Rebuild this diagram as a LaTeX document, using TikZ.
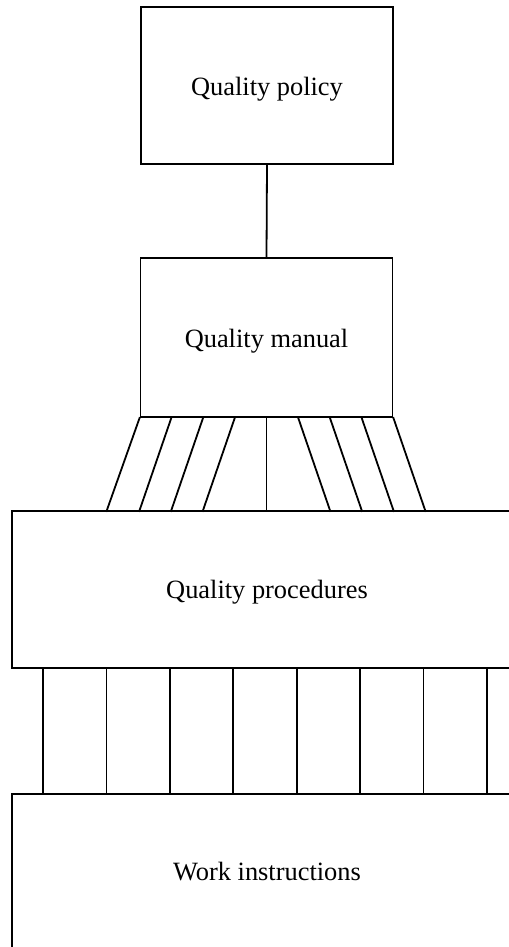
\documentclass[tikz,border=0pt]{standalone}
\usepackage{fontspec}
\setmainfont{Liberation Serif}
\usetikzlibrary{calc}
\begin{document}
\begin{tikzpicture}[x=1bp,y=1bp]
\tikzset{
  link/.style={line width=1.8bp, line cap=rect},
  box/.style={draw, line width=1.8bp, minimum width=252bp, inner sep=0pt,
    text height=19bp, text depth=0pt,
    font=\fontsize{26.4bp}{30bp}\selectfont},
  label/.style={inner sep=0pt, anchor=base, font=\fontsize{26.4bp}{30bp}\selectfont}
}
\useasboundingbox (0,0) rectangle (509,-947);

% top two levels
\node[box, minimum height=157bp] (policy) at (267,-85.5) {Quality policy};
\node[box, minimum height=159bp] (manual) at (266.5,-337.5) {Quality manual};
\draw[link] (policy.south) -- (manual.north);

% third level: open on the right
\coordinate (procTL) at (12,-511);
\coordinate (procBL) at (12,-668);
\coordinate (procTR) at (509,-511);
\coordinate (procBR) at (509,-668);
\draw[link] (procTR) -- (procTL) -- (procBL) -- (procBR);
\node[label] (procedures) at (267,-598) {Quality procedures};

% fourth level: open on the right and below
\coordinate (workTL) at (12,-794);
\coordinate (workTR) at (509,-794);
\coordinate (workBL) at (12,-947);
\draw[link] (workTR) -- (workTL) -- (workBL);
\node[label] (work) at (267,-880) {Work instructions};

% fan of links from the manual to the procedures
\foreach \i/\d in {0/-33,1/-32,2/-32,3/-32,4/0,5/32,6/32,7/32,8/32} {
  \coordinate (ft\i) at ($(manual.south west)!\i/8!(manual.south east)$);
  \coordinate (fb\i) at ($(ft\i |- procTL)+(\d,0)$);
  \draw[link] (ft\i) -- (fb\i);
}

% straight links from the procedures to the work instructions
\foreach \i in {0,...,7} {
  \coordinate (vt\i) at (43+\i*63.43,-668);
  \coordinate (vb\i) at (vt\i |- workTL);
  \draw[link] (vt\i) -- (vb\i);
}
\end{tikzpicture}
\end{document}
